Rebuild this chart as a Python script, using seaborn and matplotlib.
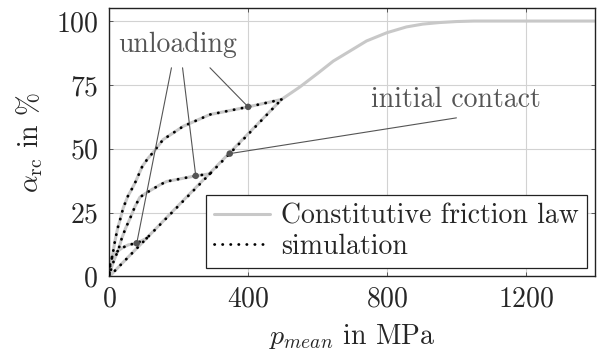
import matplotlib
matplotlib.use("Agg")
import matplotlib.pyplot as plt
from matplotlib.lines import Line2D
import pandas as pd
import seaborn as sns

# Loading branch of the constitutive law (p_mean in MPa, alpha_rc in %)
law_p = [0, 496, 549, 603, 645, 701, 741, 799, 856, 903, 950, 1000, 1050, 1400]
law_alpha = [0, 69.3, 74.2, 79.8, 84.3, 88.9, 92.2, 95.4, 97.7, 98.8, 99.4, 99.8, 100, 100]

# Simulated initial loading
load_p = [0, 108, 290, 347, 496]
load_alpha = [0, 15.0, 40.2, 48.1, 69.3]

# Simulated unloading branches
unload_hi_p = [496, 400, 290, 213, 155, 127, 110, 95, 76, 64, 53, 40, 31, 24, 16, 8.6, 2, 0]
unload_hi_alpha = [69.3, 66.4, 63.4, 58.8, 53.6, 48.7, 46.0, 43.1, 37.2, 34.0, 31.3,
                   26.8, 22.2, 18.9, 13.7, 7.8, 3.8, 0]
unload_mid_p = [290, 249, 165, 146, 122, 103, 88, 74, 60, 47, 36, 26, 14, 7, 0]
unload_mid_alpha = [40.2, 39.4, 37.2, 35.9, 34.0, 32.4, 31.0, 27.4, 22.8, 18.9, 15.0,
                    10.4, 6.5, 3.8, 0]
unload_lo_p = [108, 79, 55, 36, 16, 5, 1, 0]
unload_lo_alpha = [15.0, 13.0, 12.4, 11.1, 9.1, 7.1, 3.5, 0]

# Annotated points
unload_mark_p = [79, 249, 400]
unload_mark_alpha = [13.0, 39.4, 66.4]
contact_p = 347
contact_alpha = 48.1

x_ticks = [0, 400, 800, 1200]
y_ticks = [0, 25, 50, 75, 100]

def branch(name, p, a):
    return pd.DataFrame({"p": p, "alpha": a, "branch": name})

law_df = pd.concat([
    branch("law", law_p, law_alpha),
    branch("hi", unload_hi_p, unload_hi_alpha),
    branch("mid", unload_mid_p, unload_mid_alpha),
    branch("lo", unload_lo_p, unload_lo_alpha),
], ignore_index=True)
sim_df = pd.concat([
    branch("load", load_p, load_alpha),
    branch("hi", unload_hi_p, unload_hi_alpha),
    branch("mid", unload_mid_p, unload_mid_alpha),
    branch("lo", unload_lo_p, unload_lo_alpha),
], ignore_index=True)

sns.set_theme(style="whitegrid")
plt.rcParams.update({
    "font.family": "cmr10",
    "mathtext.fontset": "cm",
    "axes.formatter.use_mathtext": True,
    "axes.unicode_minus": False,
})

FS = 20
fig = plt.figure(figsize=(5.97, 3.52), dpi=100)
ax = fig.add_axes([0.1831, 0.2145, 0.814, 0.762])

law_color = "#c8c8c8"
sns.lineplot(data=law_df, x="p", y="alpha", units="branch", estimator=None, sort=False,
             color=law_color, lw=2.2, ax=ax, legend=False, zorder=2)
dots = (0, (0.1, 2.8))
sns.lineplot(data=sim_df, x="p", y="alpha", units="branch", estimator=None, sort=False,
             color="black", lw=2.0, ax=ax, legend=False, zorder=3)
for ln in ax.lines[-4:]:
    ln.set_linestyle(dots)
    ln.set_dash_capstyle("round")

ann_color = "#555555"
txt_pts = [(179, 81.7), (211, 81.7), (290, 81.7)]
for (tx, ty), mx, my in zip(txt_pts, unload_mark_p, unload_mark_alpha):
    ax.plot([tx, mx], [ty, my], color=ann_color, lw=0.8, zorder=4)
ax.plot([1000, contact_p], [62.1, contact_alpha], color=ann_color, lw=0.8, zorder=4)
sns.scatterplot(x=unload_mark_p + [contact_p], y=unload_mark_alpha + [contact_alpha],
                color=ann_color, s=22, edgecolor="none", ax=ax, zorder=5, legend=False)
ax.text(198, 90.7, "unloading", ha="center", va="center", fontsize=FS, color=ann_color)
ax.text(999, 69.3, "initial contact", ha="center", va="center", fontsize=FS, color=ann_color)

ax.set_xlim(0, 1400)
ax.set_ylim(0, 105)
ax.set_xticks(x_ticks)
ax.set_yticks(y_ticks)
ax.tick_params(axis="both", labelsize=FS, direction="in", length=3, width=0.6,
               color="#444444", bottom=True, left=True, top=True, right=True)
ax.tick_params(axis="y", pad=8)
ax.tick_params(axis="x", pad=7)
ax.grid(True, color="#d2d2d2", lw=0.8)
for s in ax.spines.values():
    s.set_color("#222222")
    s.set_linewidth(1.0)

ax.set_xlabel(r"$p_{mean}$ in MPa", fontsize=FS, labelpad=7)
ax.set_ylabel(r"$\alpha_{\mathrm{rc}}$ in %", fontsize=FS, labelpad=8)

handles = [
    Line2D([], [], color=law_color, lw=2.2),
    Line2D([], [], color="black", lw=2.0, linestyle=dots, dash_capstyle="round"),
]
leg = ax.legend(handles, ["Constitutive friction law", "simulation"], loc="lower right",
                fontsize=FS, frameon=True, fancybox=False, framealpha=1,
                edgecolor="#222222", borderaxespad=0.3, handlelength=2.0,
                handletextpad=0.4, borderpad=0.3, labelspacing=0.15)
leg.get_frame().set_linewidth(0.9)

fig.savefig("out.png", dpi=100)
